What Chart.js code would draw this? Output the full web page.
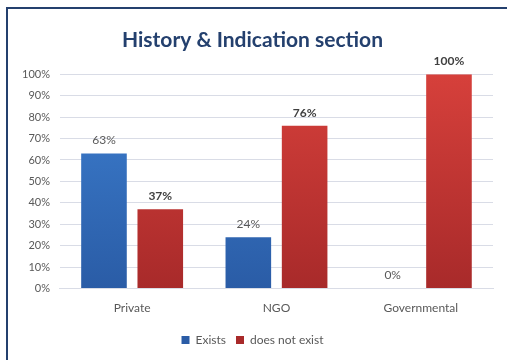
<!DOCTYPE html>
<html>
<head>
<meta charset="utf-8">
<script src="https://cdn.jsdelivr.net/npm/chart.js@4.4.1/dist/chart.umd.min.js"></script>
<style>
  html, body { margin: 0; padding: 0; background: #fff; }
  #wrap { position: relative; width: 507px; height: 360px; }
  #frame {
    position: absolute; left: 6px; top: 7px; width: 520px; height: 380px;
    border: 2px solid #24406e; box-sizing: border-box; pointer-events: none;
  }
  canvas { position: absolute; left: 0; top: 0; }
</style>
</head>
<body>
<div id="wrap">
  <canvas id="chart" width="507" height="360"></canvas>
  <div id="frame"></div>
</div>
<script>
const categories = ["Private", "NGO", "Governmental"];
const existsValues = [63, 24, 0];
const notExistValues = [37, 76, 100];
const seriesNames = ["Exists", "does not exist"];

function barGradient(top, bottom) {
  return (context) => {
    const chart = context.chart;
    const area = chart.chartArea;
    if (!area) return bottom;
    const g = chart.ctx.createLinearGradient(0, area.top, 0, area.bottom);
    g.addColorStop(0, top);
    g.addColorStop(1, bottom);
    return g;
  };
}

// labels above each bar
const valueLabels = {
  id: "valueLabels",
  afterDatasetsDraw(chart) {
    const ctx = chart.ctx;
    ctx.save();
    ctx.textAlign = "center";
    ctx.textBaseline = "bottom";
    chart.data.datasets.forEach((ds, i) => {
      const meta = chart.getDatasetMeta(i);
      ctx.font = (i === 1 ? "bold " : "") + "12px Lato, 'Open Sans', sans-serif";
      ctx.fillStyle = i === 1 ? "#404040" : "#595959";
      meta.data.forEach((bar, j) => {
        ctx.fillText(ds.data[j] + "%", bar.x, bar.y - 7);
      });
    });
    ctx.restore();
  },
};

new Chart(document.getElementById("chart"), {
  type: "bar",
  data: {
    labels: categories,
    datasets: [
      {
        label: seriesNames[0],
        data: existsValues,
        backgroundColor: barGradient("#3d7fd0", "#2a5ca6"),
        borderWidth: 0,
        categoryPercentage: 0.78,
        barPercentage: 0.81,
      },
      {
        label: seriesNames[1],
        data: notExistValues,
        backgroundColor: barGradient("#d6403b", "#a82a2a"),
        borderWidth: 0,
        categoryPercentage: 0.78,
        barPercentage: 0.81,
      },
    ],
  },
  options: {
    responsive: false,
    animation: false,
    layout: { padding: { left: 12, right: 14, top: 8, bottom: 4 } },
    plugins: {
      title: {
        display: true,
        text: "History & Indication section",
        color: "#24406e",
        font: { family: "Lato, 'Open Sans', sans-serif", size: 21, weight: "bold" },
        padding: { top: 20, bottom: 21 },
      },
      legend: {
        position: "bottom",
        labels: {
          boxWidth: 8,
          boxHeight: 8,
          padding: 10,
          color: "#595959",
          font: { family: "Lato, 'Open Sans', sans-serif", size: 12 },
        },
      },
      tooltip: { enabled: false },
    },
    scales: {
      x: {
        grid: { display: false },
        border: { color: "#d9dce6" },
        ticks: {
          color: "#595959",
          padding: 4,
          font: { family: "Lato, 'Open Sans', sans-serif", size: 12 },
        },
        afterFit: (scale) => {
          scale.height += 5;
        },
      },
      y: {
        min: 0,
        max: 100,
        ticks: {
          stepSize: 10,
          color: "#595959",
          padding: 10,
          font: { family: "Lato, 'Open Sans', sans-serif", size: 11 },
          callback: (v) => v + "%",
        },
        grid: { color: "#d9dce6", drawTicks: false },
        border: { display: false },
      },
    },
  },
  plugins: [valueLabels],
});
</script>
</body>
</html>
